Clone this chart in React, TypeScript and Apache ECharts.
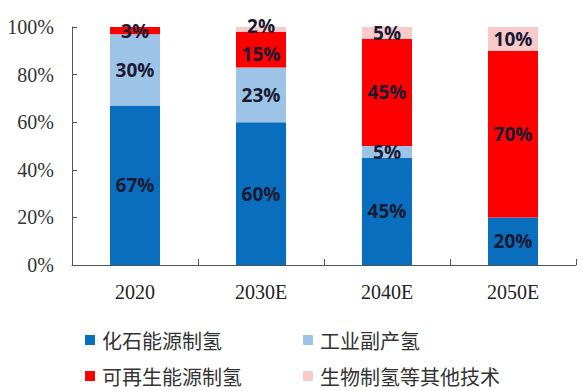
import React, { useEffect, useRef } from "react";
import * as echarts from "echarts";

const categories = ["2020", "2030E", "2040E", "2050E"];
const seriesNames = ["化石能源制氢", "工业副产氢", "可再生能源制氢", "生物制氢等其他技术"];
const fossil = [67, 60, 45, 20];
const industrial = [30, 23, 5, 0];
const renewable = [3, 15, 45, 70];
const other = [0, 2, 5, 10];
const yTicks = [0, 20, 40, 60, 80, 100];

const colors = ["#0A6EBF", "#9DC3E6", "#FF0000", "#F8CACA"];

export default function App() {
  const ref = useRef<HTMLDivElement>(null);
  useEffect(() => {
    if (!ref.current) return;
    const chart = echarts.init(ref.current, undefined, { renderer: "svg" });
    const values = [fossil, industrial, renewable, other];
    const legendPos = [
      { left: 85, top: 330 },
      { left: 303, top: 330 },
      { left: 85, top: 366 },
      { left: 303, top: 366 },
    ];
    // small nudges so that adjacent labels in thin segments don't collide
    const offsets: Record<string, [number, number]> = {
      "2-1": [0, 4],
      "3-1": [0, -3],
    };
    chart.setOption({
      animation: false,
      backgroundColor: "#ffffff",
      grid: { left: 72, right: 7, top: 27, bottom: 126, containLabel: false },
      legend: seriesNames.map((n, i) => ({
        data: [n],
        left: legendPos[i].left,
        top: legendPos[i].top,
        padding: 0,
        itemWidth: 10,
        itemHeight: 10,
        icon: "rect",
        selectedMode: false,
        textStyle: {
          fontFamily: "Noto Sans CJK SC",
          fontSize: 20,
          color: "#333333",
          padding: [0, 0, 0, 2],
        },
      })),
      xAxis: {
        type: "category",
        data: categories,
        boundaryGap: true,
        axisLine: { lineStyle: { color: "#555555", width: 1 } },
        axisTick: { show: true, inside: true, length: 6, alignWithLabel: false, lineStyle: { color: "#555555" } },
        axisLabel: {
          fontFamily: "Liberation Serif",
          fontSize: 20,
          color: "#222222",
          margin: 17,
        },
      },
      yAxis: {
        type: "value",
        min: 0,
        max: 100,
        interval: 20,
        splitLine: { show: false },
        axisLine: { show: true, lineStyle: { color: "#555555", width: 1 } },
        axisTick: { show: true, inside: true, length: 5, lineStyle: { color: "#555555" } },
        axisLabel: {
          fontFamily: "Liberation Serif",
          fontSize: 20,
          color: "#333333",
          margin: 18,
          formatter: (v: number) => (yTicks.includes(v) ? v + "%" : ""),
        },
      },
      series: seriesNames.map((n, i) => ({
        name: n,
        type: "bar",
        stack: "total",
        barWidth: 50,
        data: values[i].map((v, j) => {
          const off = offsets[i + "-" + j];
          return off ? { value: v, label: { offset: off } } : v;
        }),
        itemStyle: { color: colors[i] },
        label: {
          show: true,
          position: "inside",
          fontFamily: "Open Sans",
          fontWeight: "bold",
          fontSize: 19,
          color: "#1a1a33",
          formatter: (p: any) => (p.value > 0 ? p.value + "%" : ""),
        },
      })),
    });
    return () => chart.dispose();
  }, []);
  return <div ref={ref} style={{ width: 583, height: 391, position: "absolute", left: 0, top: 0 }} />;
}
